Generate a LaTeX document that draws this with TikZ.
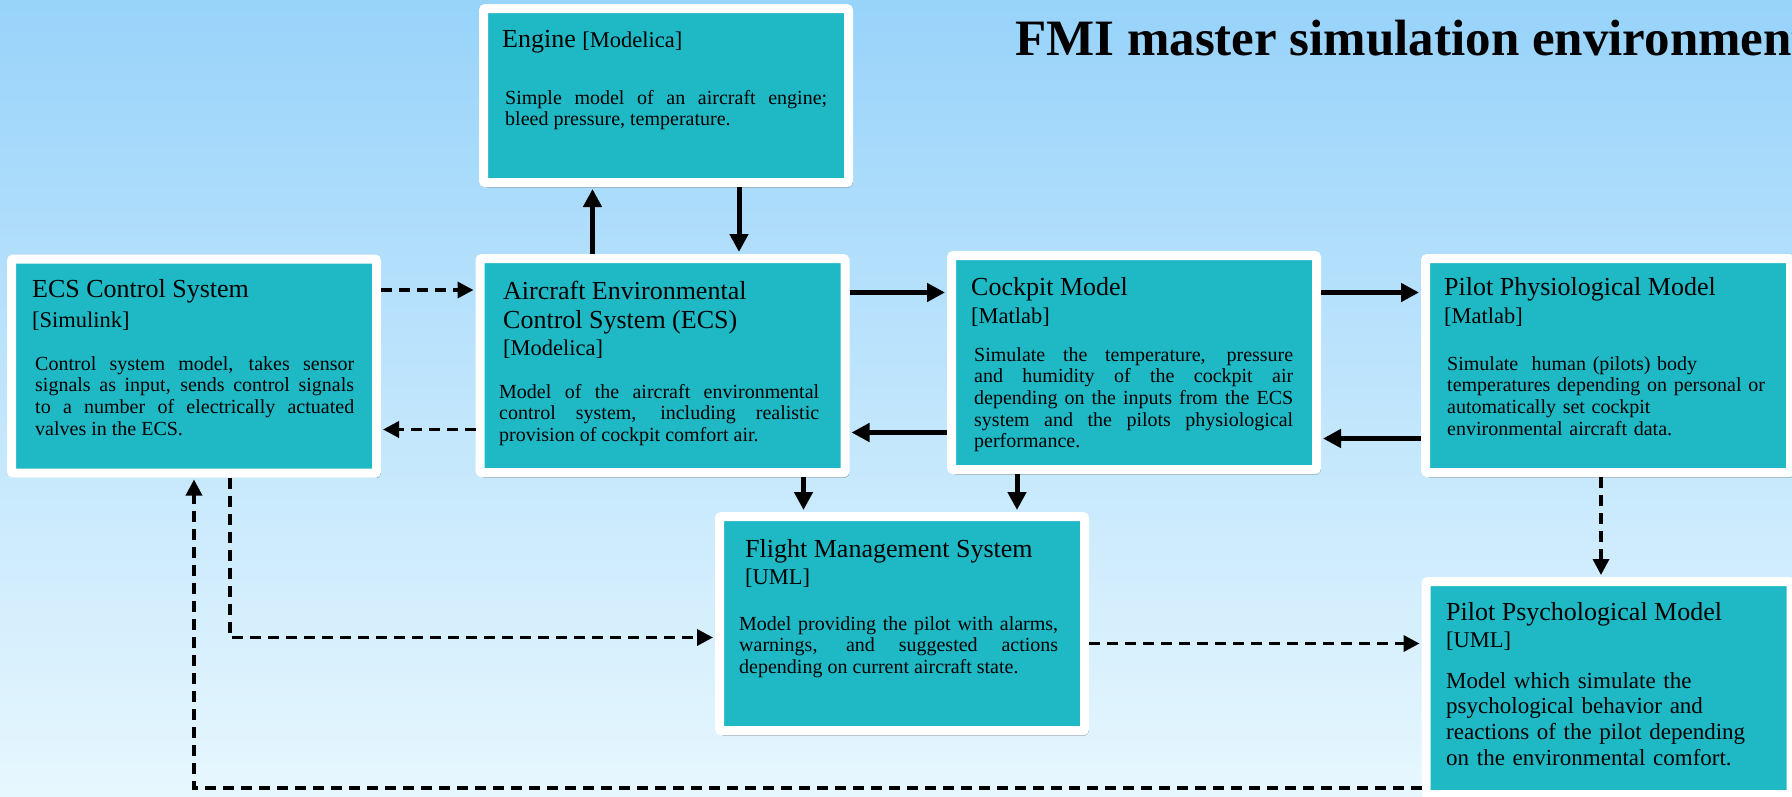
\documentclass[tikz,border=0pt]{standalone}
\usepackage{fontspec}
\setmainfont{Liberation Serif}
\usetikzlibrary{
  calc,positioning,shadows,shadows.blur,
  arrows,arrows.meta
}

\definecolor{skytop}{RGB}{152,211,250}
\definecolor{skybottom}{RGB}{231,247,254}
\definecolor{modelteal}{RGB}{31,185,198}

\newcommand\headfont{\fontsize{26}{29}\selectfont}
\newcommand\tagfont{\fontsize{22.5}{28}\selectfont}
\newcommand\bodyfont{\fontsize{20}{21.7}\selectfont}
\newcommand\psychfont{\fontsize{23}{25.7}\selectfont}

\tikzset{
  model/.style={draw=white,line width=9pt,fill=modelteal,rounded corners=2pt,
    minimum width=365pt,minimum height=214pt,inner sep=0pt,
    blur shadow={shadow xshift=2pt,shadow yshift=-3pt,shadow opacity=35}},
  head/.style={anchor=base west,inner sep=0pt,align=left,font=\headfont},
  body/.style={anchor=base west,inner sep=0pt,text width=319pt,align=justify,font=\bodyfont},
  flow/.style={line width=5pt,-{Triangle[length=18pt,width=18pt]},shorten >=2pt},
  ctrl/.style={line width=3.5pt,dash pattern=on 11pt off 7pt,
    -{Triangle[length=16pt,width=16pt]},shorten >=2pt}
}

\begin{document}
\begin{tikzpicture}[x=1pt,y=-1pt]

\clip (0,0) rectangle (1792,796);
\shade[top color=skytop,bottom color=skybottom] (0,0) rectangle (1792,796);

% title
\node[anchor=base west,inner sep=0pt,font=\fontsize{51}{60}\selectfont\bfseries] (title) at (1015,55)
  {FMI master simulation environment};

% model boxes
\node[model,minimum height=174pt] (engine) at (666,95.5) {};
\node[model] (ecsctrl) at (194,366) {};
\node[model] (acecs) at (662.5,365.5) {};
\node[model] (cockpit) at (1134,362.5) {};
\node[model] (physio) at (1608,365.5) {};
\node[model] (fms) at (902,623.5) {};
\node[model,minimum height=213pt] (psycho) at (1608.5,688) {};

% headings (anchored on the baseline of the last line)
\node[head] (engine-head) at (502,47) {Engine {\tagfont [Modelica]}};
\node[head] (ecsctrl-head) at (32,327) {ECS Control System\\[1pt]{\tagfont [Simulink]}};
\node[head] (acecs-head) at (503,355) {Aircraft Environmental\\Control System (ECS)\\[-2pt]{\tagfont [Modelica]}};
\node[head] (cockpit-head) at (971,323) {Cockpit Model\\[-1pt]{\tagfont [Matlab]}};
\node[head] (physio-head) at (1444,323) {Pilot Physiological Model\\[-1pt]{\tagfont [Matlab]}};
\node[head] (fms-head) at (745,584) {Flight Management System\\[-2pt]{\tagfont [UML]}};
\node[head] (psycho-head) at (1446,647) {Pilot Psychological Model\\[-2pt]{\tagfont [UML]}};

% descriptions
\node[body,text width=322pt] (engine-body) at (505,104)
  {Simple model of an aircraft engine;\linebreak bleed pressure, temperature.};
\node[body] (ecsctrl-body) at (35,370)
  {Control system model, takes sensor\linebreak signals as input, sends control signals\linebreak
   to a number of electrically actuated\linebreak valves in the ECS.};
\node[body,text width=320pt] (acecs-body) at (499,398)
  {Model of the aircraft environmental\linebreak control system, including realistic\linebreak
   provision of cockpit comfort air.};
\node[body] (cockpit-body) at (974,361)
  {Simulate the temperature, pressure\linebreak and humidity of the cockpit air\linebreak
   depending on the inputs from the ECS\linebreak system and the pilots physiological\linebreak
   performance.};
\node[body,text width=335pt,align=left] (physio-body) at (1447,370)
  {Simulate~ human (pilots) body\\temperatures depending on personal or\\
   automatically set cockpit\\environmental aircraft data.};
\node[body] (fms-body) at (739,630)
  {Model providing the pilot with alarms,\linebreak warnings, and suggested actions\linebreak
   depending on current aircraft state.};
\node[body,text width=335pt,align=left,font=\psychfont] (psycho-body) at (1446,688)
  {Model which simulate the\\psychological behavior and\\
   reactions of the pilot depending\\on the environmental comfort.};

% data flow between the models
\draw[flow] ([xshift=-70pt]acecs.north) -- ([xshift=-70pt]acecs.north |- engine.south);
\draw[flow] ([xshift=73pt]engine.south) -- ([xshift=73pt]engine.south |- acecs.north);
\draw[flow] ([yshift=73pt]acecs.east) -- ([yshift=73pt]acecs.east -| cockpit.west);
\draw[flow] ([yshift=-70pt]cockpit.west) -- ([yshift=-70pt]cockpit.west -| acecs.east);
\draw[flow] ([yshift=70pt]cockpit.east) -- ([yshift=70pt]cockpit.east -| physio.west);
\draw[flow] ([yshift=-73pt]physio.west) -- ([yshift=-73pt]physio.west -| cockpit.east);
\draw[flow] ([xshift=141pt]acecs.south) -- ([xshift=141pt]acecs.south |- fms.north);
\draw[flow] ([xshift=-117pt]cockpit.south) -- ([xshift=-117pt]cockpit.south |- fms.north);

% control signals
\draw[ctrl] ([yshift=76pt]ecsctrl.east) -- ([yshift=76pt]ecsctrl.east -| acecs.west);
\draw[ctrl] ([yshift=-64pt]acecs.west) -- ([yshift=-64pt]acecs.west -| ecsctrl.east);
\draw[ctrl] ([xshift=36pt]ecsctrl.south) |- ([yshift=-14pt]fms.west);
\draw[ctrl] ([yshift=-20pt]fms.east) -- ([yshift=-20pt]fms.east -| psycho.west);
\draw[ctrl] ([xshift=-7pt]physio.south) -- ([xshift=-7pt]physio.south |- psycho.north);
\draw[ctrl] ([yshift=-100pt]psycho.west) -| (ecsctrl.south);
\end{tikzpicture}
\end{document}
